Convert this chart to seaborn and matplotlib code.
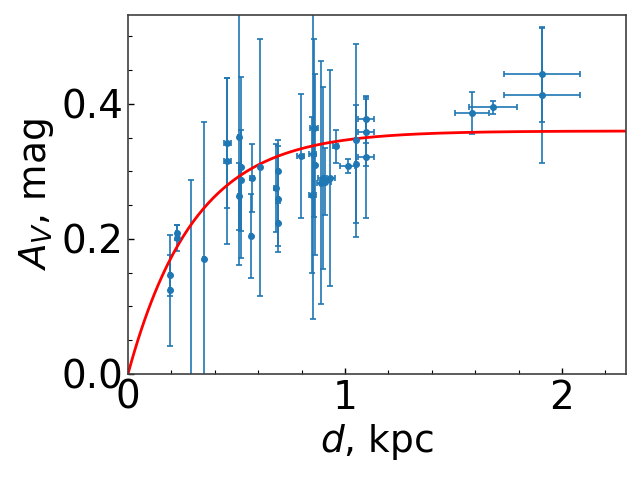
import numpy as np
import pandas as pd
import matplotlib
matplotlib.use("Agg")
import matplotlib.pyplot as plt
from matplotlib.ticker import MultipleLocator
import seaborn as sns

# distance (kpc), extinction (mag) and their errors
d_kpc = [0.195, 0.195, 0.224, 0.224, 0.289, 0.350, 0.458, 0.458, 0.511, 0.511,
         0.521, 0.521, 0.573, 0.568, 0.608, 0.682, 0.693, 0.693, 0.693, 0.796,
         0.851, 0.857, 0.849, 0.862, 0.890, 0.897, 0.910, 0.931, 0.957, 1.013,
         1.051, 1.051, 1.095, 1.095, 1.095, 1.584, 1.683, 1.909, 1.909]
av_mag = [0.146, 0.124, 0.209, 0.201, -0.010, 0.171, 0.342, 0.315, 0.351, 0.263,
          0.306, 0.287, 0.290, 0.204, 0.306, 0.275, 0.300, 0.259, 0.224, 0.323,
          0.326, 0.365, 0.265, 0.310, 0.283, 0.290, 0.285, 0.290, 0.337, 0.308,
          0.346, 0.311, 0.377, 0.358, 0.321, 0.386, 0.395, 0.444, 0.413]
d_err = [0.004, 0.004, 0.004, 0.004, 0.004, 0.004, 0.016, 0.016, 0.004, 0.004,
         0.004, 0.004, 0.010, 0.004, 0.004, 0.008, 0.004, 0.004, 0.004, 0.015,
         0.015, 0.020, 0.017, 0.006, 0.020, 0.020, 0.025, 0.025, 0.012, 0.035,
         0.006, 0.006, 0.037, 0.037, 0.037, 0.078, 0.112, 0.174, 0.174]
av_err = [0.030, 0.082, 0.011, 0.019, 0.298, 0.203, 0.096, 0.123, 0.190, 0.050,
          0.134, 0.075, 0.050, 0.062, 0.190, 0.065, 0.047, 0.078, 0.035, 0.092,
          0.244, 0.132, 0.116, 0.134, 0.180, 0.135, 0.050, 0.160, 0.025, 0.010,
          0.143, 0.088, 0.035, 0.050, 0.090, 0.031, 0.010, 0.070, 0.100]

# fitted model parameters: A_V(d) = A_inf * (1 - exp(-d / h))
A_inf = 0.36
h_scale = 0.305

sns.set_style("ticks")
plt.rcParams['font.family'] = ['DejaVu Sans']
plt.rcParams['text.color'] = 'black'
plt.rcParams['axes.labelcolor'] = 'black'
plt.rcParams['xtick.color'] = 'black'
plt.rcParams['ytick.color'] = 'black'

fig = plt.figure(figsize=(6.4, 4.8), dpi=100)
ax = fig.add_axes([0.2, 0.221, 0.778, 0.748])

df = pd.DataFrame({"d": d_kpc, "av": av_mag, "derr": d_err, "averr": av_err})
ax.errorbar(df["d"], df["av"], xerr=df["derr"], yerr=df["averr"], fmt='o',
            color='#1f77b4', ms=4, capsize=2, elinewidth=1.2, capthick=1.2)

d_grid = np.linspace(0, 2.3, 300)
model = A_inf * (1 - np.exp(-d_grid / h_scale))
sns.lineplot(x=d_grid, y=model, color='red', lw=2, ax=ax)

ax.set_xlim(0, 2.295)
ax.set_ylim(0, 0.532)
ax.xaxis.set_major_locator(MultipleLocator(1))
ax.xaxis.set_minor_locator(MultipleLocator(0.2))
ax.yaxis.set_major_locator(MultipleLocator(0.2))
ax.yaxis.set_minor_locator(MultipleLocator(0.05))
ax.set_xticks([0, 1, 2])
ax.set_xticklabels(['0', '1', '2'])
ax.set_yticks([0.0, 0.2, 0.4])
ax.set_yticklabels(['0.0', '0.2', '0.4'])
ax.tick_params(which='both', direction='in', labelsize=28, colors='black')
ax.tick_params(which='major', length=4, width=1)
ax.tick_params(which='minor', length=3, width=0.8)
for s in ax.spines.values():
    s.set_linewidth(1.2)
    s.set_color('#404040')

ax.set_xlabel('$d$, kpc', fontsize=27, labelpad=4)
ax.set_ylabel('$A_V$, mag', fontsize=27, labelpad=4)

fig.savefig('out.png', dpi=100)
